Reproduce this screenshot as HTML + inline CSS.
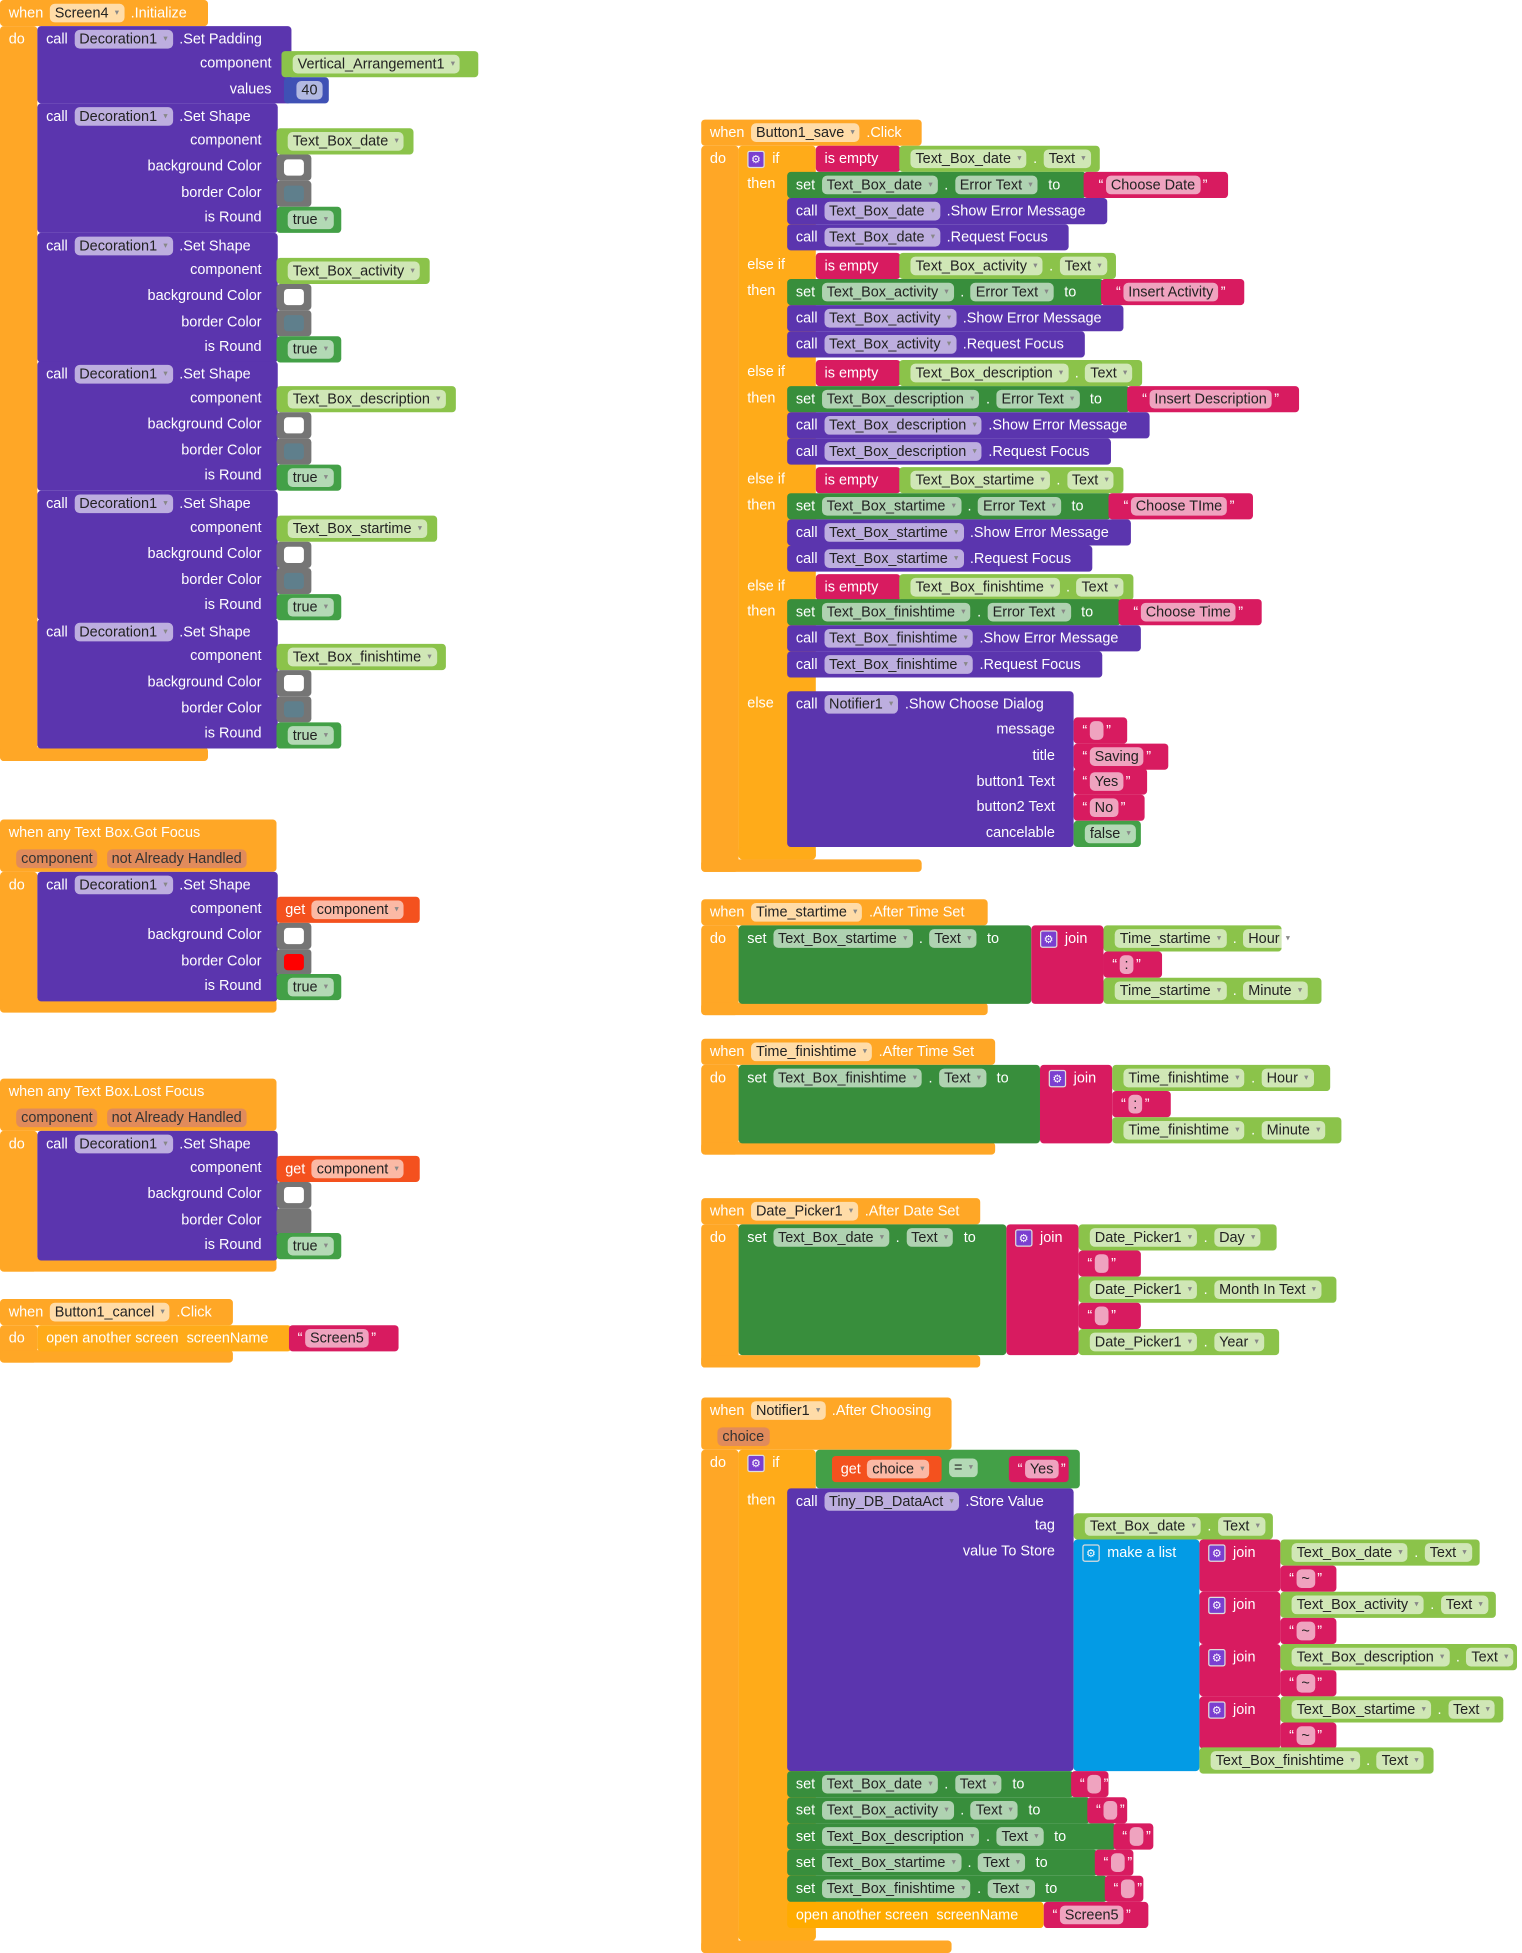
<!DOCTYPE html>
<html><head><meta charset="utf-8"><style>
html,body{margin:0;padding:0;background:#fff;width:1522px;height:1953px;overflow:hidden}
#w{position:absolute;left:0;top:0;width:1222px;height:1568px;transform:scale(1.2455);transform-origin:0 0}
.b{position:absolute;box-sizing:border-box;border-radius:3px;color:#fff;font:11.6px/21px "Liberation Sans",sans-serif;white-space:nowrap;padding-left:7px;height:21px}
.o{background:#ffa726}.y{background:#ffab19}.p{background:#5b35ae}.g{background:#388e3c}.G{background:#8bc34a}
.k{background:#d81b60}.u{background:#039be5}.r{background:#f4511e}.d{background:#3f51b5}.e{background:#757575}.L{background:#43a047}
.R{background:none;text-align:right;padding:0;line-height:20.75px;height:auto}
.q{display:inline-block;white-space:nowrap;background:rgba(255,255,255,.6);color:#222;border-radius:4px;line-height:15px;padding:0 4px;margin:0 2px}
.q i{font-style:normal;font-size:7px;color:#888;margin-left:5px;vertical-align:middle}
.h{display:inline-block;background:rgba(215,130,110,.75);color:#333;border-radius:4px;line-height:15px;padding:0 4px;margin:0 2px}
.s{display:inline-block;width:12px;height:12px;background:#7b3fd0;border:1px solid #ddd;border-radius:2px;vertical-align:middle;font-size:9px;line-height:12px;text-align:center;margin-right:6px}
.w{position:absolute;left:6px;top:4px;width:16px;height:13px;border-radius:3px}
</style></head><body><div id="w">

<!-- Screen4 Initialize -->
<div class="b o" style="left:0;top:0;width:167px">when <span class="q">Screen4<i>▾</i></span> .Initialize</div>
<div class="b o" style="left:0;top:21px;width:30px;height:590px">do</div>
<div class="b o" style="left:0;top:600px;width:167px;height:11px"></div>
<div class="b p" style="left:30px;top:21px;width:204px;height:62px">call <span class="q">Decoration1<i>▾</i></span> .Set Padding</div>
<div class="b R" style="left:30px;top:41px;width:188px">component<br>values</div>
<div class="b G" style="left:226px;top:41px;width:158px"><span class="q">Vertical_Arrangement1<i>▾</i></span></div>
<div class="b d" style="left:228px;top:62px;width:36px;padding-left:8px"><span class="q">40</span></div>

<div class="b p" style="left:30px;top:83px;width:193px;height:104px">call <span class="q">Decoration1<i>▾</i></span> .Set Shape</div>
<div class="b R" style="left:30px;top:103px;width:180px">component<br>background Color<br>border Color<br>is Round</div>
<div class="b G" style="left:222px;top:103px;width:110px"><span class="q">Text_Box_date<i>▾</i></span></div>
<div class="b e" style="left:222px;top:124px;width:28px"><div class="w" style="background:#fff"></div></div>
<div class="b e" style="left:222px;top:145px;width:28px"><div class="w" style="background:#5f7f8c"></div></div>
<div class="b L" style="left:222px;top:166px;width:52px"><span class="q">true<i>▾</i></span></div>

<div class="b p" style="left:30px;top:187px;width:193px;height:104px">call <span class="q">Decoration1<i>▾</i></span> .Set Shape</div>
<div class="b R" style="left:30px;top:207px;width:180px">component<br>background Color<br>border Color<br>is Round</div>
<div class="b G" style="left:222px;top:207px;width:123px"><span class="q">Text_Box_activity<i>▾</i></span></div>
<div class="b e" style="left:222px;top:228px;width:28px"><div class="w" style="background:#fff"></div></div>
<div class="b e" style="left:222px;top:249px;width:28px"><div class="w" style="background:#5f7f8c"></div></div>
<div class="b L" style="left:222px;top:270px;width:52px"><span class="q">true<i>▾</i></span></div>

<div class="b p" style="left:30px;top:290px;width:193px;height:104px">call <span class="q">Decoration1<i>▾</i></span> .Set Shape</div>
<div class="b R" style="left:30px;top:310px;width:180px">component<br>background Color<br>border Color<br>is Round</div>
<div class="b G" style="left:222px;top:310px;width:144px"><span class="q">Text_Box_description<i>▾</i></span></div>
<div class="b e" style="left:222px;top:331px;width:28px"><div class="w" style="background:#fff"></div></div>
<div class="b e" style="left:222px;top:352px;width:28px"><div class="w" style="background:#5f7f8c"></div></div>
<div class="b L" style="left:222px;top:373px;width:52px"><span class="q">true<i>▾</i></span></div>

<div class="b p" style="left:30px;top:394px;width:193px;height:104px">call <span class="q">Decoration1<i>▾</i></span> .Set Shape</div>
<div class="b R" style="left:30px;top:414px;width:180px">component<br>background Color<br>border Color<br>is Round</div>
<div class="b G" style="left:222px;top:414px;width:129px"><span class="q">Text_Box_startime<i>▾</i></span></div>
<div class="b e" style="left:222px;top:435px;width:28px"><div class="w" style="background:#fff"></div></div>
<div class="b e" style="left:222px;top:456px;width:28px"><div class="w" style="background:#5f7f8c"></div></div>
<div class="b L" style="left:222px;top:477px;width:52px"><span class="q">true<i>▾</i></span></div>

<div class="b p" style="left:30px;top:497px;width:193px;height:104px">call <span class="q">Decoration1<i>▾</i></span> .Set Shape</div>
<div class="b R" style="left:30px;top:517px;width:180px">component<br>background Color<br>border Color<br>is Round</div>
<div class="b G" style="left:222px;top:517px;width:136px"><span class="q">Text_Box_finishtime<i>▾</i></span></div>
<div class="b e" style="left:222px;top:538px;width:28px"><div class="w" style="background:#fff"></div></div>
<div class="b e" style="left:222px;top:559px;width:28px"><div class="w" style="background:#5f7f8c"></div></div>
<div class="b L" style="left:222px;top:580px;width:52px"><span class="q">true<i>▾</i></span></div>

<!-- Got Focus -->
<div class="b o" style="left:0;top:658px;width:222px;height:42px">when any Text Box.Got Focus<br><span class="h" style="margin-left:6px">component</span> <span class="h">not Already Handled</span></div>
<div class="b o" style="left:0;top:700px;width:30px;height:112px">do</div>
<div class="b o" style="left:0;top:802px;width:222px;height:11px"></div>
<div class="b p" style="left:30px;top:700px;width:193px;height:104px">call <span class="q">Decoration1<i>▾</i></span> .Set Shape</div>
<div class="b R" style="left:30px;top:720px;width:180px">component<br>background Color<br>border Color<br>is Round</div>
<div class="b r" style="left:222px;top:720px;width:115px">get <span class="q">component<i>▾</i></span></div>
<div class="b e" style="left:222px;top:741px;width:28px"><div class="w" style="background:#fff"></div></div>
<div class="b e" style="left:222px;top:762px;width:28px"><div class="w" style="background:#f00"></div></div>
<div class="b L" style="left:222px;top:782px;width:52px"><span class="q">true<i>▾</i></span></div>

<!-- Lost Focus -->
<div class="b o" style="left:0;top:866px;width:222px;height:42px">when any Text Box.Lost Focus<br><span class="h" style="margin-left:6px">component</span> <span class="h">not Already Handled</span></div>
<div class="b o" style="left:0;top:908px;width:30px;height:113px">do</div>
<div class="b o" style="left:0;top:1010px;width:222px;height:11px"></div>
<div class="b p" style="left:30px;top:908px;width:193px;height:104px">call <span class="q">Decoration1<i>▾</i></span> .Set Shape</div>
<div class="b R" style="left:30px;top:928px;width:180px">component<br>background Color<br>border Color<br>is Round</div>
<div class="b r" style="left:222px;top:928px;width:115px">get <span class="q">component<i>▾</i></span></div>
<div class="b e" style="left:222px;top:949px;width:28px"><div class="w" style="background:#fff"></div></div>
<div class="b e" style="left:222px;top:970px;width:28px"></div>
<div class="b L" style="left:222px;top:990px;width:52px"><span class="q">true<i>▾</i></span></div>

<!-- Button1_cancel -->
<div class="b o" style="left:0;top:1043px;width:187px">when <span class="q">Button1_cancel<i>▾</i></span> .Click</div>
<div class="b o" style="left:0;top:1064px;width:30px;height:30px">do</div>
<div class="b o" style="left:0;top:1084px;width:187px;height:10px"></div>
<div class="b y" style="left:30px;top:1064px;width:204px">open another screen &nbsp;screenName</div>
<div class="b k" style="left:232px;top:1064px;width:88px">“<span class="q">Screen5</span>”</div>

<!-- Button1_save Click -->
<div class="b o" style="left:563px;top:96px;width:177px">when <span class="q">Button1_save<i>▾</i></span> .Click</div>
<div class="b o" style="left:563px;top:117px;width:30px;height:583px">do</div>
<div class="b o" style="left:563px;top:690px;width:177px;height:10px"></div>
<div class="b y" style="left:593px;top:117px;width:62px;height:573px;padding-left:7px"><span class="s">⚙</span>if</div>
<div class="b y" style="left:593px;top:680px;width:62px;height:10px"></div>
<div class="b R" style="left:600px;top:138px;width:40px;text-align:left;color:#fff">then</div>
<div class="b R" style="left:600px;top:203px;width:40px;text-align:left;color:#fff">else if</div>
<div class="b R" style="left:600px;top:224px;width:40px;text-align:left;color:#fff">then</div>
<div class="b R" style="left:600px;top:289px;width:40px;text-align:left;color:#fff">else if</div>
<div class="b R" style="left:600px;top:310px;width:40px;text-align:left;color:#fff">then</div>
<div class="b R" style="left:600px;top:375px;width:40px;text-align:left;color:#fff">else if</div>
<div class="b R" style="left:600px;top:396px;width:40px;text-align:left;color:#fff">then</div>
<div class="b R" style="left:600px;top:461px;width:40px;text-align:left;color:#fff">else if</div>
<div class="b R" style="left:600px;top:481px;width:40px;text-align:left;color:#fff">then</div>
<div class="b R" style="left:600px;top:555px;width:40px;text-align:left;color:#fff">else</div>

<div class="b k" style="left:655px;top:117px;width:68px">is empty</div>
<div class="b G" style="left:722px;top:117px;width:161px"><span class="q">Text_Box_date<i>▾</i></span> . <span class="q">Text<i>▾</i></span></div>
<div class="b g" style="left:632px;top:138px;width:240px">set <span class="q">Text_Box_date<i>▾</i></span> . <span class="q">Error Text<i>▾</i></span> &nbsp;to</div>
<div class="b k" style="left:870px;top:138px;width:116px;padding-left:12px">“<span class="q">Choose Date</span>”</div>
<div class="b p" style="left:632px;top:159px;width:257px">call <span class="q">Text_Box_date<i>▾</i></span> .Show Error Message</div>
<div class="b p" style="left:632px;top:180px;width:226px">call <span class="q">Text_Box_date<i>▾</i></span> .Request Focus</div>

<div class="b k" style="left:655px;top:203px;width:68px">is empty</div>
<div class="b G" style="left:722px;top:203px;width:174px"><span class="q">Text_Box_activity<i>▾</i></span> . <span class="q">Text<i>▾</i></span></div>
<div class="b g" style="left:632px;top:224px;width:254px">set <span class="q">Text_Box_activity<i>▾</i></span> . <span class="q">Error Text<i>▾</i></span> &nbsp;to</div>
<div class="b k" style="left:884px;top:224px;width:115px;padding-left:12px">“<span class="q">Insert Activity</span>”</div>
<div class="b p" style="left:632px;top:245px;width:270px">call <span class="q">Text_Box_activity<i>▾</i></span> .Show Error Message</div>
<div class="b p" style="left:632px;top:266px;width:239px">call <span class="q">Text_Box_activity<i>▾</i></span> .Request Focus</div>

<div class="b k" style="left:655px;top:289px;width:68px">is empty</div>
<div class="b G" style="left:722px;top:289px;width:195px"><span class="q">Text_Box_description<i>▾</i></span> . <span class="q">Text<i>▾</i></span></div>
<div class="b g" style="left:632px;top:310px;width:275px">set <span class="q">Text_Box_description<i>▾</i></span> . <span class="q">Error Text<i>▾</i></span> &nbsp;to</div>
<div class="b k" style="left:905px;top:310px;width:138px;padding-left:12px">“<span class="q">Insert Description</span>”</div>
<div class="b p" style="left:632px;top:331px;width:291px">call <span class="q">Text_Box_description<i>▾</i></span> .Show Error Message</div>
<div class="b p" style="left:632px;top:352px;width:260px">call <span class="q">Text_Box_description<i>▾</i></span> .Request Focus</div>

<div class="b k" style="left:655px;top:375px;width:68px">is empty</div>
<div class="b G" style="left:722px;top:375px;width:180px"><span class="q">Text_Box_startime<i>▾</i></span> . <span class="q">Text<i>▾</i></span></div>
<div class="b g" style="left:632px;top:396px;width:260px">set <span class="q">Text_Box_startime<i>▾</i></span> . <span class="q">Error Text<i>▾</i></span> &nbsp;to</div>
<div class="b k" style="left:890px;top:396px;width:116px;padding-left:12px">“<span class="q">Choose TIme</span>”</div>
<div class="b p" style="left:632px;top:417px;width:276px">call <span class="q">Text_Box_startime<i>▾</i></span> .Show Error Message</div>
<div class="b p" style="left:632px;top:438px;width:245px">call <span class="q">Text_Box_startime<i>▾</i></span> .Request Focus</div>

<div class="b k" style="left:655px;top:461px;width:68px">is empty</div>
<div class="b G" style="left:722px;top:461px;width:188px"><span class="q">Text_Box_finishtime<i>▾</i></span> . <span class="q">Text<i>▾</i></span></div>
<div class="b g" style="left:632px;top:481px;width:268px">set <span class="q">Text_Box_finishtime<i>▾</i></span> . <span class="q">Error Text<i>▾</i></span> &nbsp;to</div>
<div class="b k" style="left:898px;top:481px;width:115px;padding-left:12px">“<span class="q">Choose Time</span>”</div>
<div class="b p" style="left:632px;top:502px;width:284px">call <span class="q">Text_Box_finishtime<i>▾</i></span> .Show Error Message</div>
<div class="b p" style="left:632px;top:523px;width:253px">call <span class="q">Text_Box_finishtime<i>▾</i></span> .Request Focus</div>

<div class="b p" style="left:632px;top:555px;width:230px;height:125px">call <span class="q">Notifier1<i>▾</i></span> .Show Choose Dialog</div>
<div class="b R" style="left:640px;top:576px;width:207px">message<br>title<br>button1 Text<br>button2 Text<br>cancelable</div>
<div class="b k" style="left:862px;top:576px;width:43px">“<span class="q">&nbsp;</span>”</div>
<div class="b k" style="left:862px;top:597px;width:76px">“<span class="q">Saving</span>”</div>
<div class="b k" style="left:862px;top:617px;width:59px">“<span class="q">Yes</span>”</div>
<div class="b k" style="left:862px;top:638px;width:57px">“<span class="q">No</span>”</div>
<div class="b L" style="left:862px;top:659px;width:54px"><span class="q">false<i>▾</i></span></div>

<!-- Time_startime -->
<div class="b o" style="left:563px;top:722px;width:230px">when <span class="q">Time_startime<i>▾</i></span> .After Time Set</div>
<div class="b o" style="left:563px;top:743px;width:30px;height:72px">do</div>
<div class="b o" style="left:563px;top:805px;width:230px;height:10px"></div>
<div class="b g" style="left:593px;top:743px;width:235px;height:63px">set <span class="q">Text_Box_startime<i>▾</i></span> . <span class="q">Text<i>▾</i></span> &nbsp;to</div>
<div class="b k" style="left:828px;top:743px;width:58px;height:63px"><span class="s">⚙</span>join</div>
<div class="b G" style="left:886px;top:743px;width:143px"><span class="q">Time_startime<i>▾</i></span> . <span class="q">Hour<i>▾</i></span></div>
<div class="b k" style="left:886px;top:764px;width:47px">“<span class="q">:</span>”</div>
<div class="b G" style="left:886px;top:785px;width:175px"><span class="q">Time_startime<i>▾</i></span> . <span class="q">Minute<i>▾</i></span></div>

<!-- Time_finishtime -->
<div class="b o" style="left:563px;top:834px;width:236px">when <span class="q">Time_finishtime<i>▾</i></span> .After Time Set</div>
<div class="b o" style="left:563px;top:855px;width:30px;height:72px">do</div>
<div class="b o" style="left:563px;top:917px;width:236px;height:10px"></div>
<div class="b g" style="left:593px;top:855px;width:242px;height:63px">set <span class="q">Text_Box_finishtime<i>▾</i></span> . <span class="q">Text<i>▾</i></span> &nbsp;to</div>
<div class="b k" style="left:835px;top:855px;width:58px;height:63px"><span class="s">⚙</span>join</div>
<div class="b G" style="left:893px;top:855px;width:175px"><span class="q">Time_finishtime<i>▾</i></span> . <span class="q">Hour<i>▾</i></span></div>
<div class="b k" style="left:893px;top:876px;width:47px">“<span class="q">:</span>”</div>
<div class="b G" style="left:893px;top:897px;width:184px"><span class="q">Time_finishtime<i>▾</i></span> . <span class="q">Minute<i>▾</i></span></div>

<!-- Date_Picker1 -->
<div class="b o" style="left:563px;top:962px;width:224px">when <span class="q">Date_Picker1<i>▾</i></span> .After Date Set</div>
<div class="b o" style="left:563px;top:983px;width:30px;height:115px">do</div>
<div class="b o" style="left:563px;top:1088px;width:224px;height:10px"></div>
<div class="b g" style="left:593px;top:983px;width:215px;height:105px">set <span class="q">Text_Box_date<i>▾</i></span> . <span class="q">Text<i>▾</i></span> &nbsp;to</div>
<div class="b k" style="left:808px;top:983px;width:58px;height:105px"><span class="s">⚙</span>join</div>
<div class="b G" style="left:866px;top:983px;width:159px"><span class="q">Date_Picker1<i>▾</i></span> . <span class="q">Day<i>▾</i></span></div>
<div class="b k" style="left:866px;top:1004px;width:50px">“<span class="q">&nbsp;</span>”</div>
<div class="b G" style="left:866px;top:1025px;width:207px"><span class="q">Date_Picker1<i>▾</i></span> . <span class="q">Month In Text<i>▾</i></span></div>
<div class="b k" style="left:866px;top:1046px;width:50px">“<span class="q">&nbsp;</span>”</div>
<div class="b G" style="left:866px;top:1067px;width:161px"><span class="q">Date_Picker1<i>▾</i></span> . <span class="q">Year<i>▾</i></span></div>

<!-- Notifier1 After Choosing -->
<div class="b o" style="left:563px;top:1122px;width:201px;height:42px">when <span class="q">Notifier1<i>▾</i></span> .After Choosing<br><span class="h" style="margin-left:6px">choice</span></div>
<div class="b o" style="left:563px;top:1164px;width:30px;height:404px">do</div>
<div class="b o" style="left:563px;top:1558px;width:201px;height:10px"></div>
<div class="b y" style="left:593px;top:1164px;width:62px;height:394px"><span class="s">⚙</span>if</div>
<div class="b R" style="left:600px;top:1195px;width:40px;text-align:left;color:#fff">then</div>
<div class="b L" style="left:655px;top:1164px;width:212px;height:31px"></div>
<div class="b r" style="left:668px;top:1169px;width:88px">get <span class="q">choice<i>▾</i></span></div>
<div class="b R" style="left:760px;top:1169px;width:30px;text-align:left"><span class="q">=<i>▾</i></span></div>
<div class="b k" style="left:810px;top:1169px;width:48px">“<span class="q">Yes</span>”</div>

<div class="b p" style="left:632px;top:1195px;width:230px;height:227px">call <span class="q">Tiny_DB_DataAct<i>▾</i></span> .Store Value</div>
<div class="b R" style="left:640px;top:1215px;width:207px">tag<br>value To Store</div>
<div class="b G" style="left:862px;top:1215px;width:160px"><span class="q">Text_Box_date<i>▾</i></span> . <span class="q">Text<i>▾</i></span></div>
<div class="b u" style="left:862px;top:1236px;width:101px;height:186px"><span class="s" style="background:#039be5">⚙</span>make a list</div>
<div class="b k" style="left:963px;top:1236px;width:65px;height:42px"><span class="s">⚙</span>join</div>
<div class="b G" style="left:1028px;top:1236px;width:160px"><span class="q">Text_Box_date<i>▾</i></span> . <span class="q">Text<i>▾</i></span></div>
<div class="b k" style="left:1028px;top:1257px;width:45px">“<span class="q">~</span>”</div>
<div class="b k" style="left:963px;top:1278px;width:65px;height:42px"><span class="s">⚙</span>join</div>
<div class="b G" style="left:1028px;top:1278px;width:173px"><span class="q">Text_Box_activity<i>▾</i></span> . <span class="q">Text<i>▾</i></span></div>
<div class="b k" style="left:1028px;top:1299px;width:45px">“<span class="q">~</span>”</div>
<div class="b k" style="left:963px;top:1320px;width:65px;height:42px"><span class="s">⚙</span>join</div>
<div class="b G" style="left:1028px;top:1320px;width:190px"><span class="q">Text_Box_description<i>▾</i></span> . <span class="q">Text<i>▾</i></span></div>
<div class="b k" style="left:1028px;top:1341px;width:45px">“<span class="q">~</span>”</div>
<div class="b k" style="left:963px;top:1362px;width:65px;height:42px"><span class="s">⚙</span>join</div>
<div class="b G" style="left:1028px;top:1362px;width:179px"><span class="q">Text_Box_startime<i>▾</i></span> . <span class="q">Text<i>▾</i></span></div>
<div class="b k" style="left:1028px;top:1383px;width:45px">“<span class="q">~</span>”</div>
<div class="b G" style="left:963px;top:1403px;width:188px"><span class="q">Text_Box_finishtime<i>▾</i></span> . <span class="q">Text<i>▾</i></span></div>

<div class="b g" style="left:632px;top:1422px;width:230px">set <span class="q">Text_Box_date<i>▾</i></span> . <span class="q">Text<i>▾</i></span> &nbsp;to</div>
<div class="b k" style="left:860px;top:1422px;width:30px">“<span class="q">&nbsp;</span>”</div>
<div class="b g" style="left:632px;top:1443px;width:243px">set <span class="q">Text_Box_activity<i>▾</i></span> . <span class="q">Text<i>▾</i></span> &nbsp;to</div>
<div class="b k" style="left:873px;top:1443px;width:32px">“<span class="q">&nbsp;</span>”</div>
<div class="b g" style="left:632px;top:1464px;width:264px">set <span class="q">Text_Box_description<i>▾</i></span> . <span class="q">Text<i>▾</i></span> &nbsp;to</div>
<div class="b k" style="left:894px;top:1464px;width:32px">“<span class="q">&nbsp;</span>”</div>
<div class="b g" style="left:632px;top:1485px;width:249px">set <span class="q">Text_Box_startime<i>▾</i></span> . <span class="q">Text<i>▾</i></span> &nbsp;to</div>
<div class="b k" style="left:879px;top:1485px;width:31px">“<span class="q">&nbsp;</span>”</div>
<div class="b g" style="left:632px;top:1506px;width:257px">set <span class="q">Text_Box_finishtime<i>▾</i></span> . <span class="q">Text<i>▾</i></span> &nbsp;to</div>
<div class="b k" style="left:887px;top:1506px;width:31px">“<span class="q">&nbsp;</span>”</div>
<div class="b y" style="left:632px;top:1527px;width:206px;background:#ffab00">open another screen &nbsp;screenName</div>
<div class="b k" style="left:838px;top:1527px;width:84px">“<span class="q">Screen5</span>”</div>
<div class="b y" style="left:593px;top:1548px;width:62px;height:10px"></div>

</div></body></html>
